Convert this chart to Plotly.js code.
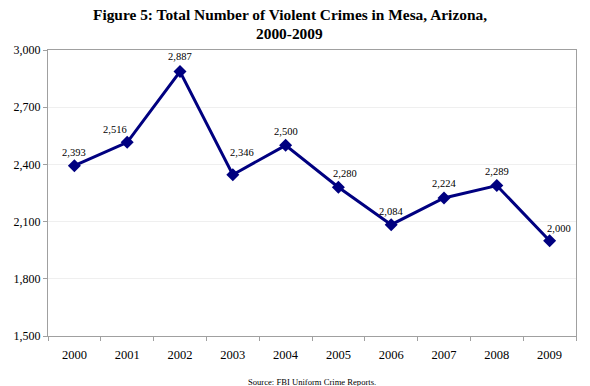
<!DOCTYPE html>
<html>
<head>
<meta charset="utf-8">
<script src="https://cdn.plot.ly/plotly-3.0.1.min.js"></script>
<style>html,body{margin:0;padding:0;background:#fff;}#chart{width:590px;height:386px;}</style>
</head>
<body>
<div id="chart"></div>
<script>
const years = ['2000','2001','2002','2003','2004','2005','2006','2007','2008','2009'];
const crimes = [2393, 2516, 2887, 2346, 2500, 2280, 2084, 2224, 2289, 2000];
const yTicks = [1500, 1800, 2100, 2400, 2700, 3000];
const yTickLabels = ['1,500', '1,800', '2,100', '2,400', '2,700', '3,000'];
const titleLines = ['Figure 5: Total Number of Violent Crimes in Mesa, Arizona,', '2000-2009'];
const sourceText = 'Source: FBI Uniform Crime Reports.';

// label offsets (style only, in pixels)
const labelDx = [0, -12, 0, 9, 0, 7, 0, 0, 0, 9];
const labelDy = [13, 13, 15, 22, 14, 14, 13, 14, 14, 12];

const serif = 'Times New Roman, Liberation Serif, serif';

const trace = {
  x: years,
  y: crimes,
  type: 'scatter',
  mode: 'lines+markers',
  line: {color: '#000080', width: 3},
  marker: {symbol: 'diamond', size: 10, color: '#000080'},
  cliponaxis: false,
  hoverinfo: 'none'
};

const annotations = crimes.map((v, i) => ({
  x: i, y: v, xref: 'x', yref: 'y',
  text: v.toLocaleString('en-US'),
  showarrow: false, xanchor: 'center', yanchor: 'middle',
  xshift: labelDx[i], yshift: labelDy[i],
  font: {family: serif, size: 10.5, color: '#000'}
}));

annotations.push({
  text: '<b>' + titleLines[0] + '</b>', xref: 'paper', yref: 'paper',
  x: 0.458, y: 1.1224, xanchor: 'center', yanchor: 'middle', showarrow: false,
  font: {family: serif, size: 15.4, color: '#000'}
});
annotations.push({
  text: '<b>' + titleLines[1] + '</b>', xref: 'paper', yref: 'paper',
  x: 0.458, y: 1.0594, xanchor: 'center', yanchor: 'middle', showarrow: false,
  font: {family: serif, size: 15.4, color: '#000'}
});
annotations.push({
  text: sourceText, xref: 'paper', yref: 'paper',
  x: 0.5, y: -0.162, xanchor: 'center', yanchor: 'middle', showarrow: false,
  font: {family: serif, size: 8.6, color: '#000'}
});

const layout = {
  width: 590,
  height: 386,
  margin: {l: 48, r: 14, t: 50, b: 50},
  paper_bgcolor: '#fff',
  plot_bgcolor: '#fff',
  showlegend: false,
  xaxis: {
    type: 'category',
    categoryorder: 'array', categoryarray: years,
    range: [-0.5, years.length - 0.5],
    tickfont: {family: serif, size: 12.5, color: '#000'},
    ticklabelstandoff: 7,
    showgrid: false,
    showline: true, linecolor: '#a0a0a0', linewidth: 1, mirror: true,
    ticks: 'outside', tickson: 'boundaries', ticklen: 4, tickcolor: '#a0a0a0',
    zeroline: false, fixedrange: true
  },
  yaxis: {
    range: [1500, 3000],
    tickvals: yTicks,
    ticktext: yTickLabels,
    tickfont: {family: serif, size: 12, color: '#000'},
    showgrid: true, gridcolor: '#efefef', gridwidth: 1,
    showline: true, linecolor: '#a0a0a0', linewidth: 1, mirror: true,
    ticks: 'outside', ticklen: 4, tickcolor: '#a0a0a0',
    zeroline: false, fixedrange: true
  },
  annotations: annotations
};

Plotly.newPlot('chart', [trace], layout, {displayModeBar: false, staticPlot: true});
</script>
</body>
</html>
